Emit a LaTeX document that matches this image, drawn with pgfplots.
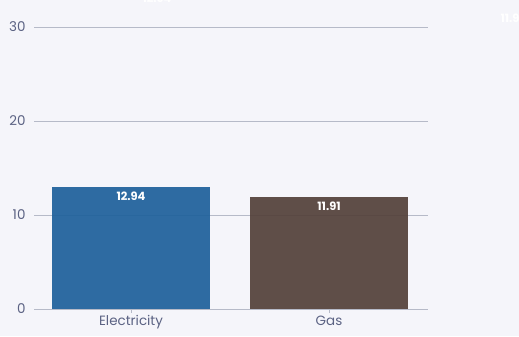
\documentclass[border=0pt]{standalone}
\usepackage{pgfplots}
\pgfplotsset{compat=1.18}
\usepackage{fontspec}
\setmainfont{Poppins}
\definecolor{bg}{HTML}{F5F5FA}
\definecolor{gridc}{HTML}{B6BAC8}
\definecolor{tickc}{HTML}{5B6283}
\definecolor{elec}{HTML}{1E609B}
\definecolor{gasc}{HTML}{534039}
\begin{document}
\begin{tikzpicture}[x=1bp,y=1bp]
\fill[bg] (0,0) rectangle (519,336);
\begin{axis}[
  at={(34bp,27bp)}, anchor=south west,
  scale only axis, width=394bp, height=282bp,
  xmin=-0.49, xmax=1.5, ymin=0, ymax=30,
  axis x line=bottom, axis y line=left,
  x axis line style={gridc, line width=0.9pt, -},
  y axis line style={draw=none},
  xtick={0,1}, xticklabels={Electricity,Gas},
  xtick style={gridc, line width=0.9pt},
  ytick style={draw=none},
  major tick length=4bp,
  tick align=outside,
  ytick={0,10,20,30},
  ymajorgrids, grid style={gridc, line width=0.9pt},
  every tick label/.append style={font=\fontsize{13.5}{15}\selectfont, text=tickc},
  x tick label style={yshift=1bp},
  y tick label style={xshift=-1bp},
  /pgf/number format/assume math mode=true,
  ybar, bar width=0.795, bar shift=0pt,
  nodes near coords,
  nodes near coords style={anchor=north, yshift=-1bp, text=white, font=\fontsize{11.5}{13}\selectfont\bfseries,
    /pgf/number format/.cd, fixed, precision=2, fixed zerofill},
  clip=false,
]
\addplot[fill=elec, fill opacity=0.92, text opacity=1, draw=none] coordinates {(0,12.94)};
\addplot[fill=gasc, fill opacity=0.92, text opacity=1, draw=none] coordinates {(1,11.91)};
\end{axis}
\node[white, font=\fontsize{11.5}{13}\selectfont\bfseries] at (157,338) {12.94};
\node[white, font=\fontsize{11.5}{13}\selectfont\bfseries, anchor=west] at (497,318) {11.91};
\pgfresetboundingbox
\path (0,0) rectangle (519,336);
\end{tikzpicture}
\end{document}
